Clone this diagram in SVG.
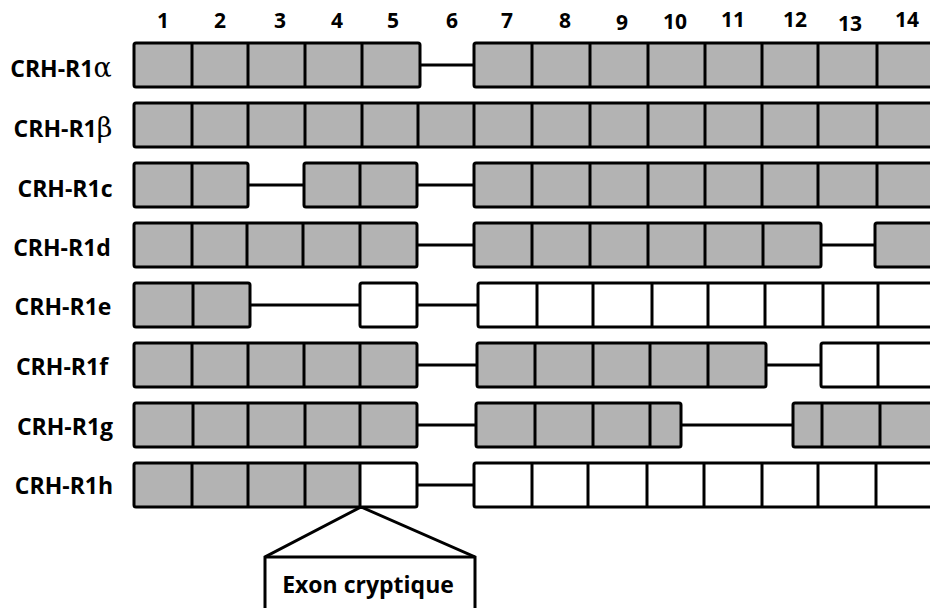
<svg xmlns="http://www.w3.org/2000/svg" width="930" height="608" viewBox="0 0 930 608">
<style>
.g{fill:#b3b3b3}
.w{fill:#fff}
.o{fill:none;stroke:#000;stroke-width:3;stroke-linejoin:round}
.d{stroke:#000;stroke-width:3}
.c{stroke:#000;stroke-width:3;fill:none}
.lab{font-family:"Open Sans","Liberation Sans",Arial,sans-serif;font-weight:bold;font-size:23px;fill:#000;text-anchor:middle}
.num{font-family:"Open Sans","Liberation Sans",Arial,sans-serif;font-weight:bold;font-size:21px;fill:#000;text-anchor:middle}
.gr{font-family:"DejaVu Serif","Liberation Serif",serif;font-weight:normal;font-size:27px}
</style>
<rect width="930" height="608" fill="#fff"/>
<g id="numbers">
<text class="num" x="163" y="28">1</text>
<text class="num" x="220" y="28">2</text>
<text class="num" x="280" y="28">3</text>
<text class="num" x="337" y="28">4</text>
<text class="num" x="393" y="28">5</text>
<text class="num" x="452" y="28">6</text>
<text class="num" x="507" y="28">7</text>
<text class="num" x="565" y="28">8</text>
<text class="num" x="622" y="30">9</text>
<text class="num" x="675" y="29">10</text>
<text class="num" x="733" y="27">11</text>
<text class="num" x="795" y="27">12</text>
<text class="num" x="850" y="31">13</text>
<text class="num" x="907" y="27">14</text>
</g>
<g id="connectors">
<line class="c" x1="420" y1="65" x2="474" y2="65"/>
<line class="c" x1="248" y1="185" x2="304" y2="185"/>
<line class="c" x1="417" y1="185" x2="474" y2="185"/>
<line class="c" x1="417" y1="245" x2="474" y2="245"/>
<line class="c" x1="821" y1="245" x2="875" y2="245"/>
<line class="c" x1="250" y1="305" x2="360" y2="305"/>
<line class="c" x1="417" y1="305" x2="478" y2="305"/>
<line class="c" x1="417" y1="365" x2="477" y2="365"/>
<line class="c" x1="766" y1="365" x2="821" y2="365"/>
<line class="c" x1="417" y1="425" x2="476" y2="425"/>
<line class="c" x1="681" y1="425" x2="793" y2="425"/>
<line class="c" x1="417" y1="485" x2="474" y2="485"/>
<polyline class="c" points="265,608 265,557 361,507 475,557 475,608"/>
<line class="c" x1="265" y1="557" x2="475" y2="557"/>
</g>
<g id="row-a">
<text class="lab" x="61" y="77">CRH-R1<tspan class="gr">α</tspan></text>
<rect class="g" x="134" y="43" width="286" height="44"/>
<line class="d" x1="192" y1="43" x2="192" y2="87"/><line class="d" x1="248" y1="43" x2="248" y2="87"/><line class="d" x1="305" y1="43" x2="305" y2="87"/><line class="d" x1="362" y1="43" x2="362" y2="87"/>
<rect class="o" x="134" y="43" width="286" height="44" rx="2"/>
<rect class="g" x="474" y="43" width="462" height="44"/>
<line class="d" x1="532" y1="43" x2="532" y2="87"/><line class="d" x1="590" y1="43" x2="590" y2="87"/><line class="d" x1="648" y1="43" x2="648" y2="87"/><line class="d" x1="705" y1="43" x2="705" y2="87"/><line class="d" x1="762" y1="43" x2="762" y2="87"/><line class="d" x1="818" y1="43" x2="818" y2="87"/><line class="d" x1="877" y1="43" x2="877" y2="87"/>
<rect class="o" x="474" y="43" width="462" height="44" rx="2"/>
</g>
<g id="row-b">
<text class="lab" x="63" y="137">CRH-R1<tspan class="gr">β</tspan></text>
<rect class="g" x="134" y="103" width="802" height="44"/>
<line class="d" x1="192" y1="103" x2="192" y2="147"/><line class="d" x1="248" y1="103" x2="248" y2="147"/><line class="d" x1="305" y1="103" x2="305" y2="147"/><line class="d" x1="362" y1="103" x2="362" y2="147"/><line class="d" x1="418" y1="103" x2="418" y2="147"/><line class="d" x1="474" y1="103" x2="474" y2="147"/>
<line class="d" x1="532" y1="103" x2="532" y2="147"/><line class="d" x1="590" y1="103" x2="590" y2="147"/><line class="d" x1="648" y1="103" x2="648" y2="147"/><line class="d" x1="705" y1="103" x2="705" y2="147"/><line class="d" x1="762" y1="103" x2="762" y2="147"/><line class="d" x1="818" y1="103" x2="818" y2="147"/><line class="d" x1="877" y1="103" x2="877" y2="147"/>
<rect class="o" x="134" y="103" width="802" height="44" rx="2"/>
</g>
<g id="row-c">
<text class="lab" x="65" y="197">CRH-R1c</text>
<rect class="g" x="134" y="163" width="114" height="44"/>
<line class="d" x1="192" y1="163" x2="192" y2="207"/>
<rect class="o" x="134" y="163" width="114" height="44" rx="2"/>
<rect class="g" x="304" y="163" width="113" height="44"/>
<line class="d" x1="360" y1="163" x2="360" y2="207"/>
<rect class="o" x="304" y="163" width="113" height="44" rx="2"/>
<rect class="g" x="474" y="163" width="462" height="44"/>
<line class="d" x1="532" y1="163" x2="532" y2="207"/><line class="d" x1="590" y1="163" x2="590" y2="207"/><line class="d" x1="648" y1="163" x2="648" y2="207"/><line class="d" x1="705" y1="163" x2="705" y2="207"/><line class="d" x1="762" y1="163" x2="762" y2="207"/><line class="d" x1="818" y1="163" x2="818" y2="207"/><line class="d" x1="877" y1="163" x2="877" y2="207"/>
<rect class="o" x="474" y="163" width="462" height="44" rx="2"/>
</g>
<g id="row-d">
<text class="lab" x="62" y="256">CRH-R1d</text>
<rect class="g" x="134" y="223" width="283" height="44"/>
<line class="d" x1="192" y1="223" x2="192" y2="267"/><line class="d" x1="247" y1="223" x2="247" y2="267"/><line class="d" x1="303" y1="223" x2="303" y2="267"/><line class="d" x1="360" y1="223" x2="360" y2="267"/>
<rect class="o" x="134" y="223" width="283" height="44" rx="2"/>
<rect class="g" x="474" y="223" width="347" height="44"/>
<line class="d" x1="532" y1="223" x2="532" y2="267"/><line class="d" x1="590" y1="223" x2="590" y2="267"/><line class="d" x1="648" y1="223" x2="648" y2="267"/><line class="d" x1="705" y1="223" x2="705" y2="267"/><line class="d" x1="763" y1="223" x2="763" y2="267"/>
<rect class="o" x="474" y="223" width="347" height="44" rx="2"/>
<rect class="g" x="875" y="223" width="61" height="44"/>
<rect class="o" x="875" y="223" width="61" height="44" rx="2"/>
</g>
<g id="row-e">
<text class="lab" x="63" y="315">CRH-R1e</text>
<rect class="g" x="134" y="283" width="116" height="44"/>
<line class="d" x1="193" y1="283" x2="193" y2="327"/>
<rect class="o" x="134" y="283" width="116" height="44" rx="2"/>
<rect class="w" x="360" y="283" width="57" height="44"/>
<rect class="o" x="360" y="283" width="57" height="44" rx="2"/>
<rect class="w" x="478" y="283" width="458" height="44"/>
<line class="d" x1="537" y1="283" x2="537" y2="327"/><line class="d" x1="593" y1="283" x2="593" y2="327"/><line class="d" x1="652" y1="283" x2="652" y2="327"/><line class="d" x1="708" y1="283" x2="708" y2="327"/><line class="d" x1="765" y1="283" x2="765" y2="327"/><line class="d" x1="823" y1="283" x2="823" y2="327"/><line class="d" x1="878" y1="283" x2="878" y2="327"/>
<rect class="o" x="478" y="283" width="458" height="44" rx="2"/>
</g>
<g id="row-f">
<text class="lab" x="62" y="375">CRH-R1f</text>
<rect class="g" x="134" y="343" width="283" height="44"/>
<line class="d" x1="192" y1="343" x2="192" y2="387"/><line class="d" x1="248" y1="343" x2="248" y2="387"/><line class="d" x1="304" y1="343" x2="304" y2="387"/><line class="d" x1="360" y1="343" x2="360" y2="387"/>
<rect class="o" x="134" y="343" width="283" height="44" rx="2"/>
<rect class="g" x="477" y="343" width="289" height="44"/>
<line class="d" x1="535" y1="343" x2="535" y2="387"/><line class="d" x1="593" y1="343" x2="593" y2="387"/><line class="d" x1="650" y1="343" x2="650" y2="387"/><line class="d" x1="708" y1="343" x2="708" y2="387"/>
<rect class="o" x="477" y="343" width="289" height="44" rx="2"/>
<rect class="w" x="821" y="343" width="115" height="44"/>
<line class="d" x1="878" y1="343" x2="878" y2="387"/>
<rect class="o" x="821" y="343" width="115" height="44" rx="2"/>
</g>
<g id="row-g">
<text class="lab" x="65" y="435">CRH-R1g</text>
<rect class="g" x="134" y="403" width="283" height="44"/>
<line class="d" x1="193" y1="403" x2="193" y2="447"/><line class="d" x1="248" y1="403" x2="248" y2="447"/><line class="d" x1="305" y1="403" x2="305" y2="447"/><line class="d" x1="360" y1="403" x2="360" y2="447"/>
<rect class="o" x="134" y="403" width="283" height="44" rx="2"/>
<rect class="g" x="476" y="403" width="205" height="44"/>
<line class="d" x1="535" y1="403" x2="535" y2="447"/><line class="d" x1="593" y1="403" x2="593" y2="447"/><line class="d" x1="650" y1="403" x2="650" y2="447"/>
<rect class="o" x="476" y="403" width="205" height="44" rx="2"/>
<rect class="g" x="793" y="403" width="143" height="44"/>
<line class="d" x1="822" y1="403" x2="822" y2="447"/><line class="d" x1="880" y1="403" x2="880" y2="447"/>
<rect class="o" x="793" y="403" width="143" height="44" rx="2"/>
</g>
<g id="row-h">
<text class="lab" x="64" y="494">CRH-R1h</text>
<rect class="w" x="134" y="463" width="283" height="44"/>
<rect class="g" x="134" y="463" width="226" height="44"/>
<line class="d" x1="192" y1="463" x2="192" y2="507"/><line class="d" x1="248" y1="463" x2="248" y2="507"/><line class="d" x1="305" y1="463" x2="305" y2="507"/><line class="d" x1="360" y1="463" x2="360" y2="507"/>
<rect class="o" x="134" y="463" width="283" height="44" rx="2"/>
<rect class="w" x="474" y="463" width="462" height="44"/>
<line class="d" x1="532" y1="463" x2="532" y2="507"/><line class="d" x1="588" y1="463" x2="588" y2="507"/><line class="d" x1="647" y1="463" x2="647" y2="507"/><line class="d" x1="704" y1="463" x2="704" y2="507"/><line class="d" x1="762" y1="463" x2="762" y2="507"/><line class="d" x1="818" y1="463" x2="818" y2="507"/><line class="d" x1="876" y1="463" x2="876" y2="507"/>
<rect class="o" x="474" y="463" width="462" height="44" rx="2"/>
</g>
<g id="cryptic-exon">
<text class="lab" x="368" y="593">Exon cryptique</text>
</g>
</svg>
